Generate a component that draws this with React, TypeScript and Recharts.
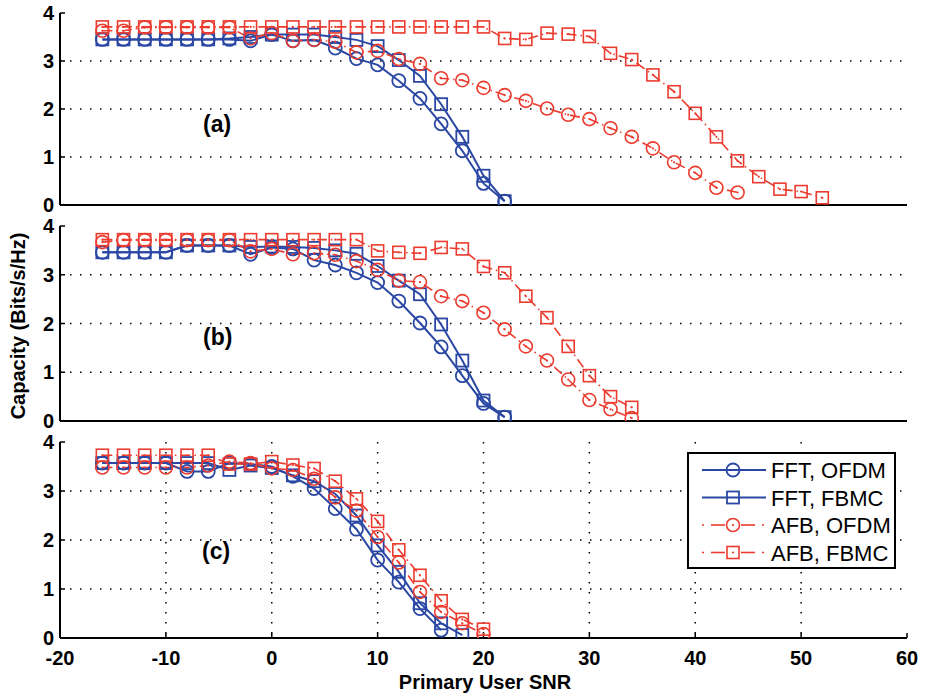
import React from 'react';
import { LineChart, Line, XAxis, YAxis, CartesianGrid } from 'recharts';

// ---------- data ----------
const snr = [-16, -14, -12, -10, -8, -6, -4, -2, 0, 2, 4, 6, 8, 10, 12, 14, 16, 18, 20, 22, 24, 26, 28, 30, 32, 34, 36, 38, 40, 42, 44, 46, 48, 50, 52];
const xTicks = [-20, -10, 0, 10, 20, 30, 40, 50, 60];
const yTicks = [0, 1, 2, 3, 4];
const seriesNames = ['FFT, OFDM', 'FFT, FBMC', 'AFB, OFDM', 'AFB, FBMC'];
const panelLabels = ['(a)', '(b)', '(c)'];

// panel (a)
const aFftOfdm = [3.45, 3.45, 3.45, 3.45, 3.45, 3.45, 3.45, 3.42, 3.55, 3.42, 3.44, 3.27, 3.05, 2.92, 2.59, 2.22, 1.69, 1.13, 0.45, 0.08];
const aFftFbmc = [3.45, 3.45, 3.45, 3.45, 3.45, 3.45, 3.47, 3.50, 3.55, 3.55, 3.55, 3.50, 3.44, 3.31, 3.02, 2.69, 2.10, 1.42, 0.61, 0.08];
const aAfbOfdm = [3.63, 3.63, 3.70, 3.70, 3.70, 3.70, 3.70, 3.47, 3.58, 3.42, 3.44, 3.40, 3.18, 3.21, 3.04, 2.94, 2.64, 2.60, 2.44, 2.29, 2.17, 2.01, 1.88, 1.79, 1.60, 1.42, 1.18, 0.89, 0.67, 0.36, 0.26];
const aAfbFbmc = [3.71, 3.71, 3.71, 3.71, 3.71, 3.71, 3.71, 3.71, 3.71, 3.71, 3.71, 3.71, 3.71, 3.71, 3.71, 3.71, 3.71, 3.71, 3.71, 3.47, 3.45, 3.58, 3.56, 3.51, 3.16, 3.03, 2.71, 2.36, 1.91, 1.42, 0.92, 0.59, 0.33, 0.28, 0.15];

// panel (b)
const bFftOfdm = [3.46, 3.46, 3.46, 3.46, 3.60, 3.60, 3.60, 3.42, 3.56, 3.53, 3.30, 3.20, 3.04, 2.84, 2.46, 2.01, 1.52, 0.93, 0.36, 0.08];
const bFftFbmc = [3.46, 3.46, 3.46, 3.46, 3.60, 3.60, 3.60, 3.57, 3.58, 3.57, 3.55, 3.50, 3.43, 3.18, 2.88, 2.60, 1.98, 1.24, 0.42, 0.08];
const bAfbOfdm = [3.67, 3.71, 3.71, 3.71, 3.71, 3.71, 3.71, 3.48, 3.53, 3.42, 3.44, 3.41, 3.28, 3.10, 2.88, 2.85, 2.56, 2.46, 2.22, 1.88, 1.53, 1.24, 0.85, 0.43, 0.24, 0.06];
const bAfbFbmc = [3.72, 3.72, 3.72, 3.72, 3.72, 3.72, 3.72, 3.72, 3.72, 3.72, 3.72, 3.72, 3.72, 3.49, 3.46, 3.44, 3.56, 3.53, 3.17, 3.04, 2.56, 2.12, 1.53, 0.93, 0.50, 0.28];

// panel (c)
const cFftOfdm = [3.57, 3.57, 3.57, 3.57, 3.40, 3.40, 3.57, 3.55, 3.50, 3.30, 3.05, 2.64, 2.22, 1.59, 1.14, 0.60, 0.16];
const cFftFbmc = [3.57, 3.57, 3.57, 3.57, 3.57, 3.57, 3.43, 3.52, 3.47, 3.32, 3.20, 2.94, 2.50, 1.89, 1.35, 0.71, 0.30, 0.06];
const cAfbOfdm = [3.48, 3.48, 3.48, 3.48, 3.48, 3.52, 3.60, 3.57, 3.46, 3.43, 3.25, 2.87, 2.60, 2.06, 1.54, 0.94, 0.53, 0.30, 0.08];
const cAfbFbmc = [3.73, 3.73, 3.73, 3.73, 3.73, 3.73, 3.55, 3.55, 3.60, 3.53, 3.46, 3.20, 2.84, 2.38, 1.80, 1.28, 0.76, 0.38, 0.18];

// ---------- styles ----------
const BLUE = '#2a47a3';
const RED = '#ec3b2f';
const FONT = '"Liberation Sans", Arial, Helvetica, sans-serif';
const RED_DASH = '10 4 1.5 4';

const seriesStyle = [
  { key: 's0', color: BLUE, shape: 'circle', dash: undefined, width: 2 },
  { key: 's1', color: BLUE, shape: 'square', dash: undefined, width: 2 },
  { key: 's2', color: RED, shape: 'circle', dash: RED_DASH, width: 1.6 },
  { key: 's3', color: RED, shape: 'square', dash: RED_DASH, width: 1.6 },
];

const buildRows = (series: number[][]) =>
  snr.map((x, i) => {
    const row: Record<string, number | undefined> = { x };
    series.forEach((s, k) => {
      row['s' + k] = s[i];
    });
    return row;
  });

const panelsData = [
  buildRows([aFftOfdm, aFftFbmc, aAfbOfdm, aAfbFbmc]),
  buildRows([bFftOfdm, bFftFbmc, bAfbOfdm, bAfbFbmc]),
  buildRows([cFftOfdm, cFftFbmc, cAfbOfdm, cAfbFbmc]),
];

// layout for each panel: div top, chart height, bottom axis height, label offset (relative to panel)
const panelLayout = [
  { top: 0, height: 220, axisH: 15, showX: false, label: { left: 203, top: 110 } },
  { top: 213, height: 223, axisH: 15, showX: false, label: { left: 203, top: 110 } },
  { top: 429, height: 267, axisH: 58, showX: true, label: { left: 202, top: 108 } },
];

const Marker = ({ cx, cy, color, shape, center }: any) => {
  const sw = color === BLUE ? 1.8 : 1.6;
  return (
    <g>
      {shape === 'circle' ? (
        <circle cx={cx} cy={cy} r={6.5} fill="none" stroke={color} strokeWidth={sw} />
      ) : (
        <rect x={cx - 6} y={cy - 6} width={12} height={12} fill="none" stroke={color} strokeWidth={sw} />
      )}
      {center ? <circle cx={cx} cy={cy} r={1.1} fill={color} /> : null}
    </g>
  );
};

const makeDot = (color: string, shape: string, center: boolean) => (props: any) => {
  const { cx, cy, index, value } = props;
  if (cx == null || cy == null || value == null || isNaN(cy)) return <g key={'e' + index} />;
  return (
    <g key={'d' + index}>
      <Marker cx={cx} cy={cy} color={color} shape={shape} center={center} />
    </g>
  );
};

const tickStyle = { fontFamily: FONT, fontSize: 20, fontWeight: 'bold', fill: '#000' };

const Panel = ({ idx }: { idx: number }) => {
  const lay = panelLayout[idx];
  const data = panelsData[idx];
  return (
    <div style={{ position: 'absolute', left: 0, top: lay.top, width: 944, height: lay.height }}>
      <LineChart width={944} height={lay.height} data={data} margin={{ top: 13, right: 37, bottom: 0, left: 0 }}>
        <CartesianGrid
          stroke="#000"
          strokeWidth={1.5}
          strokeDasharray="1.5 8.5"
          horizontalValues={[1, 2, 3]}
          verticalValues={[-10, 0, 10, 20, 30, 40, 50]}
        />
        <XAxis
          dataKey="x"
          type="number"
          domain={[-20, 60]}
          ticks={xTicks}
          allowDataOverflow
          height={lay.axisH}
          tickSize={-5}
          tickMargin={lay.showX ? 18 : 0}
          tick={lay.showX ? tickStyle : false}
          axisLine={{ stroke: '#000', strokeWidth: 2 }}
          tickLine={{ stroke: '#000', strokeWidth: 1.5 }}
          interval={0}
        />
        <XAxis
          xAxisId="top"
          orientation="top"
          dataKey="x"
          type="number"
          domain={[-20, 60]}
          ticks={xTicks}
          allowDataOverflow
          height={0}
          tickSize={-5}
          tick={false}
          axisLine={{ stroke: '#000', strokeWidth: 2 }}
          tickLine={{ stroke: '#000', strokeWidth: 1.5 }}
          interval={0}
        />
        <YAxis
          type="number"
          domain={[0, 4]}
          ticks={yTicks}
          allowDataOverflow
          width={60}
          tickSize={-5}
          tickMargin={11}
          tick={tickStyle}
          axisLine={{ stroke: '#000', strokeWidth: 2 }}
          tickLine={{ stroke: '#000', strokeWidth: 1.5 }}
          interval={0}
        />
        <YAxis
          yAxisId="r"
          orientation="right"
          type="number"
          domain={[0, 4]}
          ticks={yTicks}
          allowDataOverflow
          width={0}
          tickSize={-5}
          tick={false}
          axisLine={{ stroke: '#000', strokeWidth: 2 }}
          tickLine={{ stroke: '#000', strokeWidth: 1.5 }}
          interval={0}
        />
        <Line
          xAxisId="top"
          yAxisId="r"
          dataKey="s0"
          stroke="none"
          dot={false}
          activeDot={false}
          isAnimationActive={false}
          legendType="none"
        />
        {seriesStyle.map((s, k) => (
          <Line
            key={s.key}
            type="linear"
            dataKey={s.key}
            name={seriesNames[k]}
            stroke={s.color}
            strokeWidth={s.width}
            strokeDasharray={s.dash}
            dot={makeDot(s.color, s.shape, s.color === RED)}
            activeDot={false}
            isAnimationActive={false}
          />
        ))}
      </LineChart>
      <div
        style={{
          position: 'absolute',
          left: lay.label.left,
          top: lay.label.top,
          fontFamily: FONT,
          fontWeight: 'bold',
          fontSize: 23,
          lineHeight: '28px',
          color: '#000',
        }}
      >
        {panelLabels[idx]}
      </div>
    </div>
  );
};

const LegendBox = () => (
  <div
    style={{
      position: 'absolute',
      left: 687,
      top: 452,
      width: 205,
      height: 113,
      border: '2px solid #000',
      background: '#fff',
    }}
  >
    <svg width={205} height={113} style={{ position: 'absolute', left: 0, top: 0 }}>
      {seriesStyle.map((s, k) => {
        const y = 16 + k * 27.5;
        const isRed = s.color === RED;
        return (
          <g key={s.key}>
            {isRed ? (
              <g stroke={s.color} strokeWidth={1.6}>
                <line x1={13} x2={15} y1={y} y2={y} />
                <line x1={22} x2={36} y1={y} y2={y} />
                <line x1={52} x2={66} y1={y} y2={y} />
                <line x1={73} x2={75} y1={y} y2={y} />
              </g>
            ) : (
              <line x1={13} x2={77} y1={y} y2={y} stroke={s.color} strokeWidth={2} />
            )}
            <Marker cx={44} cy={y} color={s.color} shape={s.shape} center={isRed} />
            <text x={82} y={y + 8} fontFamily={FONT} fontSize={22} fill="#000">
              {seriesNames[k]}
            </text>
          </g>
        );
      })}
    </svg>
  </div>
);

export default function App() {
  return (
    <div style={{ position: 'absolute', left: 0, top: 0, width: 944, height: 696, background: '#fff', overflow: 'hidden' }}>
      {[0, 1, 2].map((i) => (
        <Panel key={i} idx={i} />
      ))}
      <LegendBox />
      <div
        style={{
          position: 'absolute',
          left: 18 - 120,
          top: 326 - 14,
          width: 240,
          height: 28,
          transform: 'rotate(-90deg)',
          textAlign: 'center',
          fontFamily: FONT,
          fontWeight: 'bold',
          fontSize: 20,
          lineHeight: '28px',
          color: '#000',
          whiteSpace: 'nowrap',
        }}
      >
        Capacity (Bits/s/Hz)
      </div>
      <div
        style={{
          position: 'absolute',
          left: 485 - 150,
          top: 671,
          width: 300,
          textAlign: 'center',
          fontFamily: FONT,
          fontWeight: 'bold',
          fontSize: 20,
          lineHeight: '22px',
          color: '#000',
          whiteSpace: 'nowrap',
        }}
      >
        Primary User SNR
      </div>
    </div>
  );
}
